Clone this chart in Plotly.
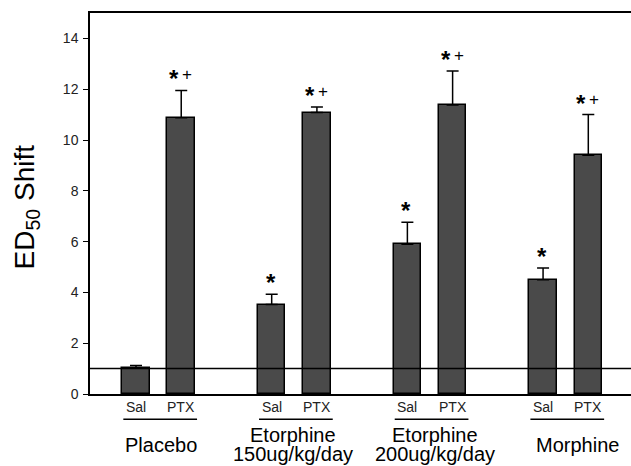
import plotly.graph_objects as go

# ---- data ----
groups = ["Placebo", "Etorphine<br>150ug/kg/day", "Etorphine<br>200ug/kg/day", "Morphine"]
treatments = ["Sal", "PTX"]
sal_values = [1.03, 3.52, 5.90, 4.50]
sal_errors = [0.09, 0.41, 0.86, 0.46]
ptx_values = [10.88, 11.08, 11.38, 9.40]
ptx_errors = [1.07, 0.22, 1.34, 1.60]
sal_marks = ["", "*", "*", "*"]
ptx_marks = ["*+", "*+", "*+", "*+"]
y_ticks = [0, 2, 4, 6, 8, 10, 12, 14]

# positions (layout)
sal_x = [3 * i for i in range(len(groups))]
ptx_x = [3 * i + 1 for i in range(len(groups))]
label_dx = [0.05, -0.04, 0.11, 0.26]

BAR = "#4a4a4a"
FONT = "Liberation Sans, Arial, sans-serif"

fig = go.Figure()
for xs, vals, errs in [(sal_x, sal_values, sal_errors), (ptx_x, ptx_values, ptx_errors)]:
    fig.add_trace(go.Bar(
        x=xs, y=vals, width=0.61,
        marker=dict(color=BAR, line=dict(color="black", width=1.5)),
        error_y=dict(type="data", array=errs, arrayminus=[0] * len(errs), symmetric=False,
                     color="black", thickness=1.5, width=6),
        showlegend=False, hoverinfo="skip",
    ))

ann = []
# significance marks
for xs, vals, errs, marks in [(sal_x, sal_values, sal_errors, sal_marks),
                              (ptx_x, ptx_values, ptx_errors, ptx_marks)]:
    for x, v, e, m in zip(xs, vals, errs, marks):
        if not m:
            continue
        two = "+" in m
        ann.append(dict(x=x, y=v + e, xref="x", yref="y", text="<b>*</b>", showarrow=False,
                        yanchor="bottom", yshift=-4, xshift=(-7 if two else -1),
                        font=dict(size=24, color="black", family=FONT)))
        if two:
            ann.append(dict(x=x, y=v + e, xref="x", yref="y", text="+", showarrow=False,
                            yanchor="bottom", yshift=4, xshift=6,
                            font=dict(size=17, color="black", family=FONT)))

# Sal / PTX labels and underlines
shapes = []
for sx, px in zip(sal_x, ptx_x):
    for x, t in [(sx, treatments[0]), (px, treatments[1])]:
        ann.append(dict(x=x, y=-0.0349, xref="x", yref="paper", text=t, showarrow=False,
                        yanchor="middle", font=dict(size=14, color="#222", family=FONT)))
    shapes.append(dict(type="line", xref="x", yref="paper", x0=sx - 0.28, x1=px + 0.35,
                       y0=-0.0664, y1=-0.0664, line=dict(color="black", width=1.5)))

# group labels
for g, sx, px, dx in zip(groups, sal_x, ptx_x, label_dx):
    cx = (sx + px) / 2 + dx
    parts = g.split("<br>")
    if len(parts) == 1:
        ann.append(dict(x=cx, y=-0.133, xref="x", yref="paper", text=parts[0], showarrow=False,
                        yanchor="middle", font=dict(size=20, color="black", family=FONT)))
    else:
        for p, yy in zip(parts, [-0.1076, -0.1575]):
            ann.append(dict(x=cx, y=yy, xref="x", yref="paper", text=p, showarrow=False,
                            yanchor="middle", font=dict(size=20, color="black", family=FONT)))

# y-axis title
ann.append(dict(x=-0.118, y=0.49, xref="paper", yref="paper", text="ED<sub>50</sub> Shift",
                textangle=-90, showarrow=False, xanchor="center", yanchor="middle",
                font=dict(size=28, color="black", family=FONT)))

# reference line at 1
shapes.append(dict(type="line", xref="paper", yref="y", x0=0, x1=1, y0=1, y1=1,
                   line=dict(color="black", width=1.5), layer="above"))

fig.update_layout(
    width=631, height=466,
    margin=dict(l=90, r=0, t=13, b=72, pad=0),
    paper_bgcolor="white", plot_bgcolor="white",
    font=dict(family=FONT, color="black"),
    annotations=ann, shapes=shapes,
    bargap=0,
)
fig.update_xaxes(range=[-1.017, 10.944], showgrid=False, zeroline=False,
                 showline=True, linecolor="black", linewidth=1.5, mirror=True,
                 showticklabels=False, ticks="")
fig.update_yaxes(range=[0, 15], tickvals=y_ticks, showgrid=False, zeroline=False,
                 showline=True, linecolor="black", linewidth=1.5,
                 ticks="outside", ticklen=5, tickwidth=1.2, tickcolor="black",
                 tickfont=dict(size=14, color="#222", family=FONT), ticklabelstandoff=2)

fig.write_html("out.html", config={"displayModeBar": False},
               post_script="document.body.style.margin='0';document.body.style.overflow='hidden';")
